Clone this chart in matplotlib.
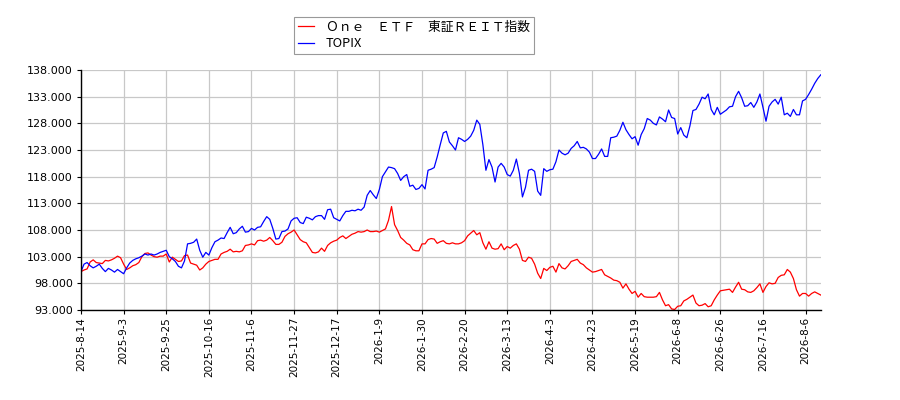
import matplotlib
matplotlib.use("Agg")
import matplotlib.pyplot as plt
import numpy as np

SERIES_NAMES = ["Ｏｎｅ　ＥＴＦ　東証ＲＥＩＴ指数", "TOPIX"]

# trading-day series, rebased to 100 at the first day
REIT = [
    100.2, 100.5, 100.7, 102.0, 102.4, 101.9, 101.8, 101.7, 102.3, 102.2,
    102.4, 102.7, 103.1, 102.8, 101.6, 100.6, 100.9, 101.3, 101.5, 101.9,
    103.0, 103.6, 103.7, 103.3, 103.0, 102.9, 103.1, 103.1, 103.5, 102.0,
    102.9, 102.5, 102.1, 102.2, 103.2, 103.3, 101.8, 101.6, 101.4, 100.5,
    100.9, 101.6, 102.1, 102.3, 102.5, 102.5, 103.5, 103.8, 104.0, 104.4,
    103.9, 104.0, 103.9, 104.1, 105.1, 105.2, 105.4, 105.2, 106.0, 106.1,
    105.9, 106.1, 106.6, 106.0, 105.3, 105.3, 105.7, 106.8, 107.3, 107.6,
    108.0, 107.1, 106.2, 105.8, 105.6, 104.7, 103.8, 103.7, 103.9, 104.6,
    104.0, 105.1, 105.6, 105.9, 106.1, 106.6, 106.9, 106.4, 106.8, 107.2,
    107.4, 107.7, 107.6, 107.7, 108.0, 107.7, 107.7, 107.8, 107.6, 107.9,
    108.2, 109.8, 112.4, 109.0, 107.9, 106.6, 106.1, 105.5, 105.2, 104.3,
    104.1, 104.1, 105.4, 105.4, 106.2, 106.4, 106.3, 105.5, 105.8, 106.0,
    105.5, 105.4, 105.6, 105.4, 105.4, 105.6, 106.0, 106.9, 107.4, 107.9,
    107.1, 107.5, 105.6, 104.4, 105.8, 104.6, 104.4, 104.5, 105.4, 104.3,
    104.9, 104.6, 105.1, 105.4, 104.4, 102.3, 102.1, 102.9, 102.7, 101.6,
    99.9, 98.9, 100.8, 100.4, 101.0, 101.2, 100.1, 101.7, 100.9, 100.7,
    101.3, 102.1, 102.3, 102.5, 101.8, 101.5, 100.9, 100.5, 100.1, 100.2,
    100.4, 100.6, 99.6, 99.3, 99.0, 98.6, 98.5, 98.2, 97.1, 97.9,
    96.9, 96.1, 96.5, 95.4, 96.1, 95.5, 95.4, 95.4, 95.4, 95.5,
    96.3, 94.9, 93.8, 94.0, 93.2, 93.1, 93.7, 93.8, 94.7, 95.0,
    95.4, 95.8, 94.3, 93.8, 93.9, 94.2, 93.6, 93.8, 94.9, 95.8,
    96.6, 96.7, 96.8, 96.9, 96.3, 97.3, 98.2, 96.9, 96.8, 96.4,
    96.3, 96.6, 97.2, 97.9, 96.3, 97.4, 98.1, 97.9, 98.0, 99.1,
    99.5, 99.6, 100.6, 100.1, 98.9, 96.8, 95.6, 96.1, 96.1, 95.6,
    96.1, 96.4, 96.1, 95.8,
]

TOPIX = [
    100.2, 101.6, 101.9, 101.3, 100.9, 101.2, 101.6, 100.8, 100.2, 100.8,
    100.5, 100.1, 100.6, 100.2, 99.8, 100.9, 101.8, 102.3, 102.6, 102.8,
    103.1, 103.5, 103.3, 103.5, 103.3, 103.5, 103.8, 104.0, 104.2, 103.0,
    102.6, 102.1, 101.2, 100.9, 102.2, 105.4, 105.5, 105.7, 106.3, 104.2,
    102.9, 103.8, 103.3, 104.7, 105.8, 106.1, 106.5, 106.4, 107.5, 108.5,
    107.3, 107.5, 108.2, 108.7, 107.6, 107.7, 108.3, 108.0, 108.5, 108.6,
    109.6, 110.5, 110.0, 108.3, 106.3, 106.4, 107.7, 107.8, 108.2, 109.7,
    110.2, 110.3, 109.4, 109.2, 110.4, 110.2, 109.9, 110.5, 110.7, 110.7,
    110.0, 111.8, 111.9, 110.3, 110.0, 109.7, 110.7, 111.5, 111.5, 111.7,
    111.6, 111.9, 111.7, 112.3, 114.5, 115.4, 114.6, 113.9, 115.6, 118.0,
    118.9, 119.8, 119.7, 119.5, 118.6, 117.3, 118.0, 118.4, 116.2, 116.4,
    115.6, 115.8, 116.5, 115.7, 119.2, 119.4, 119.7, 121.7, 124.0, 126.2,
    126.5, 124.5, 123.8, 123.0, 125.3, 125.0, 124.6, 125.0, 125.6, 126.7,
    128.6, 127.8, 124.0, 119.2, 121.2, 119.8, 117.0, 119.8, 120.5, 119.8,
    118.4, 118.1, 119.2, 121.3, 118.6, 114.2, 116.0, 119.2, 119.4, 119.0,
    115.3, 114.5, 119.5, 119.0, 119.3, 119.4, 120.8, 123.0, 122.4, 122.1,
    122.4, 123.3, 123.8, 124.6, 123.4, 123.5, 123.2, 122.6, 121.4, 121.4,
    122.2, 123.2, 121.8, 121.8, 125.3, 125.4, 125.6, 126.7, 128.2, 126.8,
    125.9, 125.1, 125.5, 123.9, 125.9, 127.0, 128.9, 128.6, 128.0, 127.7,
    129.2, 128.8, 128.3, 130.5, 129.1, 128.9, 126.0, 127.2, 125.8, 125.3,
    127.5, 130.4, 130.6, 131.6, 132.9, 132.6, 133.5, 130.6, 129.6, 131.0,
    129.7, 130.1, 130.5, 131.1, 131.2, 133.0, 134.0, 132.8, 131.2, 131.3,
    131.9, 131.0, 132.0, 133.5, 131.0, 128.4, 131.2, 132.0, 132.5, 131.6,
    132.9, 129.6, 129.9, 129.3, 130.6, 129.6, 129.6, 132.2, 132.5, 133.4,
    134.4, 135.5, 136.4, 137.1,
]

# one label every 14 trading days
TICK_LABELS = [
    "2025-8-14", "2025-9-3", "2025-9-25", "2025-10-16", "2025-11-6",
    "2025-11-27", "2025-12-17", "2026-1-9", "2026-1-30", "2026-2-20",
    "2026-3-13", "2026-4-3", "2026-4-23", "2026-5-19", "2026-6-8",
    "2026-6-26", "2026-7-16", "2026-8-6",
]
TICK_STEP = 14
Y_TICKS = [93, 98, 103, 108, 113, 118, 123, 128, 133, 138]

plt.rcParams["font.family"] = ["DejaVu Sans"]
fig = plt.figure(figsize=(9, 4), dpi=100)
ax = fig.add_axes([0.09, 0.225, 0.822, 0.6])

ax.plot(np.arange(len(REIT)), REIT, color="#ff0000", linewidth=0.9, label=SERIES_NAMES[0])
ax.plot(np.arange(len(TOPIX)), TOPIX, color="#0000ff", linewidth=0.9, label=SERIES_NAMES[1])

ax.set_xlim(0, len(TOPIX) - 1)
ax.set_ylim(93, 138)
ax.set_yticks(Y_TICKS)
ax.set_yticklabels([f"{v:.3f}" for v in Y_TICKS])
ax.set_xticks(np.arange(len(TICK_LABELS)) * TICK_STEP)
ax.set_xticklabels(TICK_LABELS, rotation=90)
ax.tick_params(axis="y", labelsize=8, length=3, width=0.8, pad=3)
ax.tick_params(axis="x", labelsize=7.5, length=3, width=0.8, pad=2)
ax.grid(True, color="#c8c8c8", linewidth=0.9)
ax.set_axisbelow(True)
ax.spines[["top", "right"]].set_visible(False)
ax.spines[["left", "bottom"]].set_linewidth(1.0)

leg = fig.legend(loc="upper left", bbox_to_anchor=(0.3267, 0.9575), frameon=True,
                 fancybox=False, edgecolor="#808080", borderpad=0.3,
                 handlelength=1.3, handletextpad=0.9, labelspacing=0.25,
                 borderaxespad=0.0,
                 prop={"family": ["Noto Sans CJK JP", "DejaVu Sans"], "size": 9.2})
leg.get_frame().set_linewidth(0.8)

fig.savefig("out.png", dpi=100, facecolor="white")
